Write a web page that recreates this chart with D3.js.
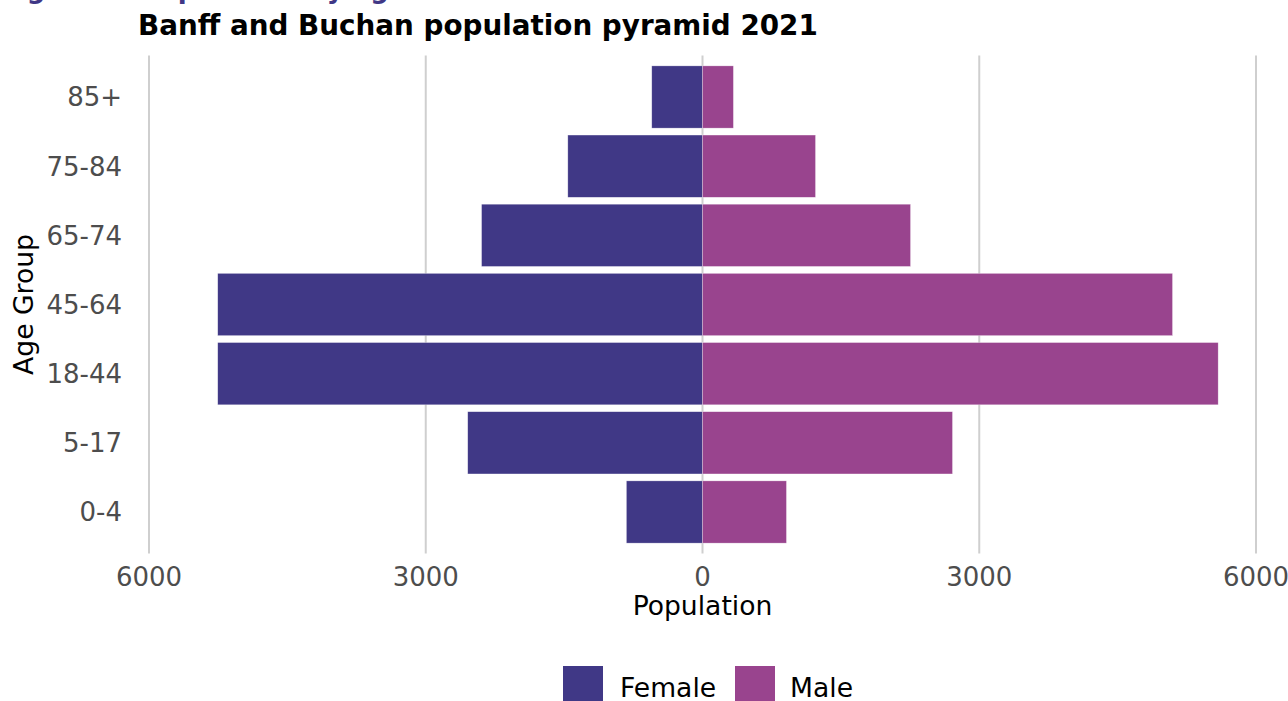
<!DOCTYPE html>
<html>
<head>
<meta charset="utf-8">
<script src="https://cdn.jsdelivr.net/npm/d3@7"></script>
<style>
  body { margin: 0; background: #fff; }
  svg { display: block; font-family: "DejaVu Sans", sans-serif; }
</style>
</head>
<body>
<svg></svg>
<script>
var width = 1288;
var height = 701;

// age groups, top to bottom
var ageGroups = ["85+", "75-84", "65-74", "45-64", "18-44", "5-17", "0-4"];
var female = [550, 1460, 2395, 5255, 5255, 2545, 825];
var male = [335, 1225, 2255, 5095, 5590, 2710, 910];
var xTicks = [-6000, -3000, 0, 3000, 6000];
var sexes = ["Female", "Male"];
var colors = { Female: "#403886", Male: "#99448e" };

var rows = ageGroups.map((g, i) => ({ age: g, female: female[i], male: male[i] }));

var svg = d3.select("svg")
              .attr("width", width)
              .attr("height", height);

var x = d3.scaleLinear()
          .domain([-6000, 6000])
          .range([149, 1256]);

var step = (512 - 97) / 6;
var y = d3.scaleBand()
          .domain(ageGroups)
          .range([97 - step / 2, 512 + step / 2])
          .paddingInner(0.1)
          .paddingOuter(0.05);

// cut-off figure caption at the very top
svg.append("text")
   .attr("x", 0)
   .attr("y", -2)
   .attr("fill", "#3f3786")
   .attr("font-weight", "bold")
   .attr("font-size", 26)
   .text("Figure 2: Population by age and sex");

svg.append("text")
   .attr("x", 138)
   .attr("y", 35)
   .attr("font-weight", "bold")
   .attr("font-size", 27.8)
   .attr("fill", "#000")
   .text("Banff and Buchan population pyramid 2021");

// vertical gridlines
svg.append("g")
   .selectAll("line")
   .data(xTicks)
   .enter()
   .append("line")
     .attr("x1", d => x(d))
     .attr("x2", d => x(d))
     .attr("y1", 97 - step * 0.6)
     .attr("y2", 512 + step * 0.6)
     .attr("stroke", "#cfcfcf")
     .attr("stroke-width", 2);

// bars
var barG = svg.append("g");
barG.selectAll("rect.f")
    .data(rows)
    .enter()
    .append("rect")
      .attr("class", "f")
      .attr("x", d => x(-d.female))
      .attr("width", d => x(0) - x(-d.female))
      .attr("y", d => y(d.age))
      .attr("height", y.bandwidth())
      .attr("fill", colors.Female)
      .attr("stroke", "#fff")
      .attr("stroke-opacity", 0.5)
      .attr("stroke-width", 0.6);

barG.selectAll("rect.m")
    .data(rows)
    .enter()
    .append("rect")
      .attr("class", "m")
      .attr("x", x(0))
      .attr("width", d => x(d.male) - x(0))
      .attr("y", d => y(d.age))
      .attr("height", y.bandwidth())
      .attr("fill", colors.Male)
      .attr("stroke", "#fff")
      .attr("stroke-opacity", 0.5)
      .attr("stroke-width", 0.6);

// y tick labels
svg.append("g")
   .selectAll("text")
   .data(ageGroups)
   .enter()
   .append("text")
     .attr("x", 122)
     .attr("y", d => y(d) + y.bandwidth() / 2)
     .attr("dy", "0.36em")
     .attr("text-anchor", "end")
     .attr("font-size", 26)
     .attr("fill", "#4d4d4d")
     .text(d => d);

// x tick labels
svg.append("g")
   .selectAll("text")
   .data(xTicks)
   .enter()
   .append("text")
     .attr("x", d => x(d))
     .attr("y", 586)
     .attr("text-anchor", "middle")
     .attr("font-size", 26)
     .attr("fill", "#4d4d4d")
     .text(d => Math.abs(d));

// axis titles
svg.append("text")
   .attr("x", x(0))
   .attr("y", 615)
   .attr("text-anchor", "middle")
   .attr("font-size", 26.6)
   .attr("fill", "#000")
   .text("Population");

svg.append("text")
   .attr("transform", "translate(33," + (97 + 512) / 2 + ") rotate(-90)")
   .attr("text-anchor", "middle")
   .attr("font-size", 26.6)
   .attr("fill", "#000")
   .text("Age Group");

// legend
var legX = [563, 735];
var legend = svg.append("g")
                .selectAll("g")
                .data(sexes)
                .enter()
                .append("g")
                  .attr("transform", (d, i) => "translate(" + legX[i] + ",666)");

legend.append("rect")
      .attr("width", 40)
      .attr("height", 40)
      .attr("fill", d => colors[d]);

legend.append("text")
      .attr("x", (d, i) => i === 0 ? 57 : 55)
      .attr("y", 31)
      .attr("font-size", 26.6)
      .attr("fill", "#000")
      .text(d => d);
</script>
</body>
</html>
